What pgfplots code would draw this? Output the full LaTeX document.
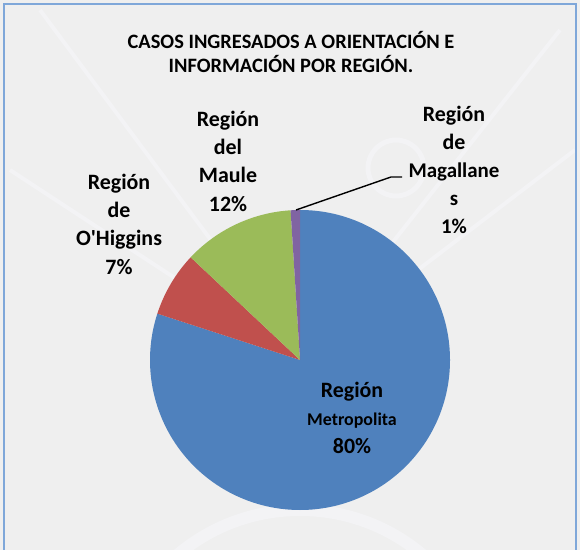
\documentclass[border=0pt]{standalone}
\usepackage{pgfplots}
\pgfplotsset{compat=1.18}
\usepackage{fontspec}
\setmainfont{Carlito}
\definecolor{pieblue}{HTML}{4F81BD}
\definecolor{piered}{HTML}{C0504D}
\definecolor{piegreen}{HTML}{9BBB59}
\definecolor{piepurple}{HTML}{8064A2}
\definecolor{bgc}{HTML}{EFEFEF}
\definecolor{wm}{HTML}{F3F3F5}
\definecolor{framec}{HTML}{7FA7D9}
\begin{document}
\begin{tikzpicture}
\begin{axis}[
  scale only axis, width=580bp, height=550bp,
  xmin=0, xmax=580, ymin=0, ymax=550,
  hide axis, clip=true]
% background
\fill[bgc] (axis cs:0,0) rectangle (axis cs:580,550);
% faint watermark
\draw[wm, line width=5bp] (axis cs:396,382) circle[radius=28bp];
\draw[wm, line width=4bp] (axis cs:40,540) -- (axis cs:300,190);
\draw[wm, line width=4bp] (axis cs:560,520) -- (axis cs:300,190);
\draw[wm, line width=4bp] (axis cs:10,380) -- (axis cs:300,190);
\draw[wm, line width=4bp] (axis cs:575,400) -- (axis cs:300,190);
\draw[wm, line width=12bp] (axis cs:300,-150) circle[radius=190bp];
% frame
\draw[framec, line width=1.2bp] (axis cs:4,0) -- (axis cs:4,546) -- (axis cs:576,546) -- (axis cs:576,0);
% pie slices (percent values), clockwise from 12 o'clock
\gdef\angstart{90}
\foreach \v/\col in {80/pieblue, 7/piered, 12/piegreen, 1/piepurple}{
  \pgfmathsetmacro\angend{\angstart-3.6*\v}
  \edef\slicecmd{\noexpand\fill[fill=\col] (axis cs:300,190) -- ++(\angstart:150bp)
     arc[start angle=\angstart, end angle=\angend, radius=150bp] -- cycle;}
  \slicecmd
  \xdef\angstart{\angend}
}
% leader line
\draw[black, line width=1.4bp] (axis cs:296,340) -- (axis cs:391,373) -- (axis cs:402,373);
% title
\node[align=center, font=\bfseries\fontsize{20.5}{24}\selectfont] at (axis cs:291,498)
  {CASOS INGRESADOS A ORIENTACIÓN E\\INFORMACIÓN POR REGIÓN.};
% labels
\node[align=center, font=\bfseries\fontsize{22}{28.5}\selectfont] at (axis cs:119,326)
  {Región\\de\\O\textquotesingle Higgins\\7\%};
\node[align=center, font=\bfseries\fontsize{22}{28.5}\selectfont] at (axis cs:228,389)
  {Región\\del\\Maule\\12\%};
\node[align=center, font=\bfseries\fontsize{21}{28}\selectfont] at (axis cs:454,380)
  {{\fontsize{22}{28}\selectfont Región}\\{\fontsize{22}{28}\selectfont de}\\Magallane\\s\\1\%};
\node[align=center, font=\bfseries\fontsize{22}{28.5}\selectfont] at (axis cs:352,132)
  {Región\\{\fontsize{18}{28.5}\selectfont Metropolita}\\80\%};
\end{axis}
\pgfresetboundingbox
\path (current axis.south west) rectangle (current axis.north east);
\end{tikzpicture}
\end{document}
